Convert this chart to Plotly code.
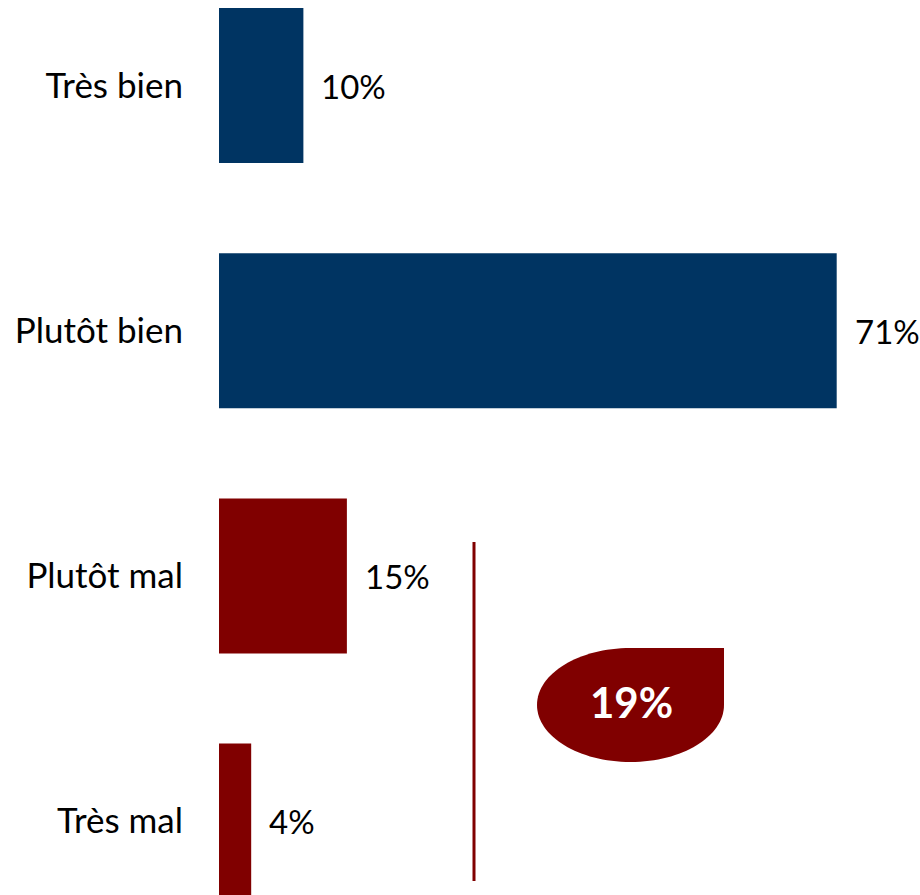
import plotly.graph_objects as go

categories = ["Très bien", "Plutôt bien", "Plutôt mal", "Très mal"]
values = [9.7, 71.0, 14.7, 3.7]
colors = ["#003462", "#003462", "#800000", "#800000"]
total_label = "19%"

W, H = 920, 895
ML, MR, MT, MB = 219, 0, 0, 0
PX_PER_UNIT = 8.7
plot_w = W - ML - MR

def px(xp):
    return (xp - ML) / plot_w

def py(yp):
    return 1 - (yp - MT) / (H - MT - MB)

fig = go.Figure()
fig.add_trace(go.Bar(
    y=categories, x=values, orientation="h",
    marker=dict(color=colors, line=dict(width=0)),
    width=0.632, hoverinfo="skip",
))

for c, v in zip(categories, values):
    fig.add_annotation(x=v, y=c, text=f"{round(v)}%", showarrow=False,
                       xanchor="left", yanchor="middle", xshift=16,
                       font=dict(family="Lato", size=33, color="#000000"))

# bracket line
fig.add_shape(type="line", xref="paper", yref="paper",
              x0=px(474), x1=px(474), y0=py(542), y1=py(881),
              line=dict(color="#800000", width=3))

# bubble
cx, cy, rx, ry = 630.5, 705, 93.5, 57
k = 0.5523
pts = [
    ("M", [(cx, cy - ry)]),
    ("L", [(cx + rx, cy - ry)]),
    ("L", [(cx + rx, cy)]),
    ("C", [(cx + rx, cy + k * ry), (cx + k * rx, cy + ry), (cx, cy + ry)]),
    ("C", [(cx - k * rx, cy + ry), (cx - rx, cy + k * ry), (cx - rx, cy)]),
    ("C", [(cx - rx, cy - k * ry), (cx - k * rx, cy - ry), (cx, cy - ry)]),
]
path = ""
for cmd, ps in pts:
    path += cmd + " " + " ".join(f"{px(a):.5f},{py(b):.5f}" for a, b in ps) + " "
path += "Z"
fig.add_shape(type="path", xref="paper", yref="paper", path=path,
              fillcolor="#800000", line=dict(width=0), layer="above")
fig.add_annotation(xref="paper", yref="paper", x=px(631), y=py(707),
                   yshift=-22,
                   text=f"<b>{total_label}</b>", showarrow=False,
                   font=dict(family="Lato", size=42, color="#ffffff"))

cat_h = 245.2
c0 = 85.5
fig.update_layout(
    width=W, height=H,
    margin=dict(l=ML, r=MR, t=MT, b=MB, pad=0),
    paper_bgcolor="white", plot_bgcolor="white",
    showlegend=False,
    xaxis=dict(range=[0, plot_w / PX_PER_UNIT], visible=False, fixedrange=True),
    yaxis=dict(type="category", categoryorder="array", categoryarray=categories,
               range=[(H - c0) / cat_h, -c0 / cat_h],
               showgrid=False, zeroline=False, showline=False, ticks="",
               ticklabelstandoff=35, fixedrange=True,
               tickfont=dict(family="Lato", size=35, color="#000000")),
)

fig.write_html("out.html", config={"displayModeBar": False},
               post_script="document.body.style.margin='0';document.body.style.overflow='hidden';")
